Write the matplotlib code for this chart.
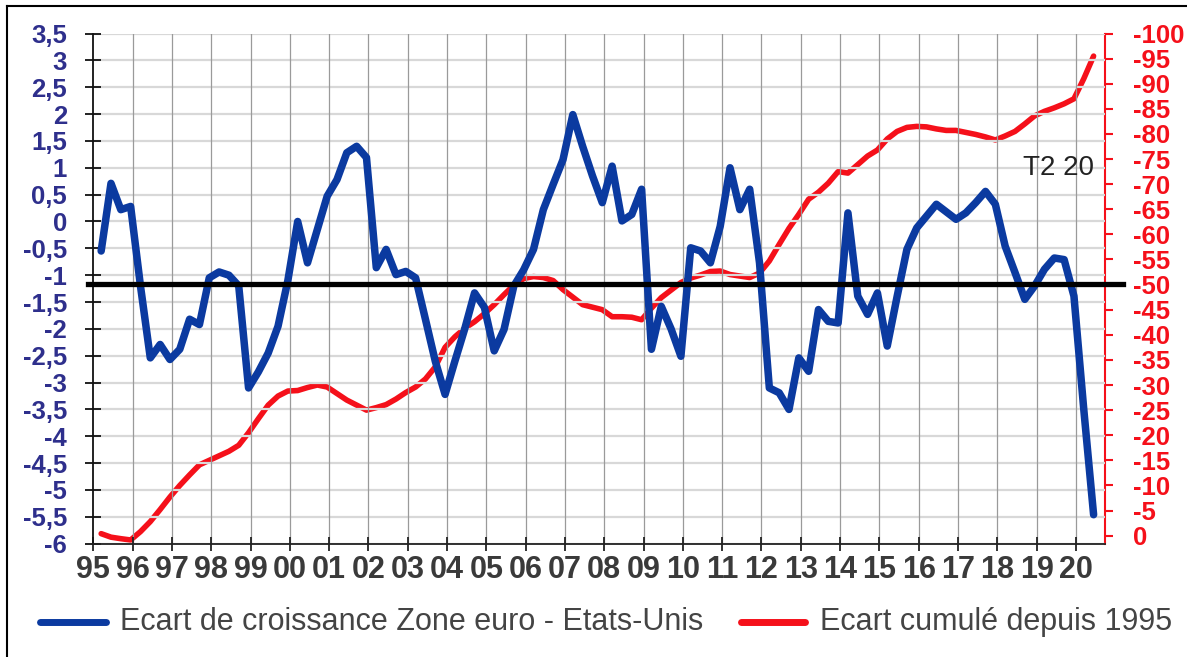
import numpy as np
import matplotlib
matplotlib.use("Agg")
import matplotlib.pyplot as plt
from matplotlib.lines import Line2D
import matplotlib.transforms as mtransforms

# ---------------- data ----------------
start_year = 1995.2          # first quarter (T1 1995) position on the time axis
quarter_step = 0.25

growth_gap = [  # Ecart de croissance Zone euro - Etats-Unis (quarterly, 1995 T1 -> 2020 T2)
    -0.55, 0.71, 0.22, 0.28, -1.2, -2.54, -2.29, -2.57, -2.38, -1.82,
    -1.92, -1.05, -0.94, -1.0, -1.2, -3.1, -2.8, -2.45, -1.95, -1.1,
    0.0, -0.77, -0.15, 0.47, 0.78, 1.28, 1.40, 1.19, -0.86, -0.52,
    -0.99, -0.93, -1.05, -1.82, -2.6, -3.22, -2.6, -2.0, -1.33, -1.6,
    -2.41, -2.01, -1.2, -0.9, -0.52, 0.22, 0.69, 1.15, 1.99, 1.4,
    0.85, 0.35, 1.03, 0.01, 0.13, 0.6, -2.38, -1.58, -2.0, -2.51,
    -0.49, -0.55, -0.77, -0.09, 1.0, 0.22, 0.6, -0.77, -3.1, -3.19,
    -3.5, -2.54, -2.79, -1.64, -1.86, -1.89, 0.16, -1.39, -1.73, -1.33,
    -2.32, -1.4, -0.52, -0.12, 0.1, 0.32, 0.18, 0.04, 0.16, 0.35,
    0.56, 0.32, -0.46, -0.95, -1.45, -1.2, -0.89, -0.68, -0.71, -1.39,
    -3.5, -5.46,
]

cumulative_gap = [  # Ecart cumulé depuis 1995 (right axis)
    -0.4, 0.3, 0.6, 0.86, -0.8, -2.8, -5.2, -7.7, -10.0, -12.1,
    -14.1, -15.0, -15.9, -16.8, -18.0, -20.5, -23.3, -26.0, -27.8, -28.8,
    -28.9, -29.5, -30.0, -29.6, -28.3, -27.0, -26.0, -25.0, -25.5, -26.1,
    -27.2, -28.5, -29.6, -31.2, -33.6, -37.5, -39.6, -41.3, -42.6, -44.2,
    -46.0, -48.0, -49.9, -51.2, -51.6, -51.4, -50.8, -49.0, -47.5, -46.0,
    -45.5, -45.0, -43.6, -43.6, -43.5, -43.0, -45.3, -47.4, -48.9, -50.4,
    -51.3, -51.9, -52.6, -52.7, -52.0, -51.7, -51.4, -52.3, -54.7, -58.0,
    -61.2, -64.0, -67.0, -68.4, -70.2, -72.5, -72.2, -73.9, -75.6, -76.8,
    -79.0, -80.5, -81.3, -81.5, -81.4, -81.0, -80.7, -80.7, -80.3, -79.9,
    -79.4, -78.8, -79.6, -80.5, -82.0, -83.6, -84.5, -85.2, -86.0, -87.0,
    -91.0, -95.5,
]

average_gap = -1.17   # horizontal reference line (left axis)

year_ticks = list(range(1995, 2021))
year_labels = ["95", "96", "97", "98", "99", "00", "01", "02", "03", "04",
               "05", "06", "07", "08", "09", "10", "11", "12", "13", "14",
               "15", "16", "17", "18", "19", "20"]
left_ticks = [3.5, 3, 2.5, 2, 1.5, 1, 0.5, 0, -0.5, -1, -1.5, -2, -2.5, -3,
              -3.5, -4, -4.5, -5, -5.5, -6]
right_ticks = list(range(0, -101, -5))

label_blue = "Ecart de croissance Zone euro - Etats-Unis"
label_red = "Ecart cumulé depuis 1995"
last_label = "T2 20"

# ---------------- style ----------------
BLUE = "#0B3AA0"
RED = "#F5101A"
NAVY = "#2E2F8C"
GRAY_TXT = "#3A3A3A"
FONT = "Liberation Sans"

x = start_year + quarter_step * np.arange(len(growth_gap))

fig = plt.figure(figsize=(11.87, 6.57), dpi=100)
fig.patch.set_facecolor("white")

W, H = 1187, 657
ax_l, ax_r, ax_t, ax_b = 93.3, 1105, 33.5, 543.7
ax = fig.add_axes([ax_l / W, 1 - ax_b / H, (ax_r - ax_l) / W, (ax_b - ax_t) / H])
ax2 = ax.twinx()

ax.set_xlim(1995, 2020.74)
ax.set_ylim(-6, 3.5)
ax2.set_ylim(1.6, -100)

# grid
for yv in left_ticks:
    ax.axhline(yv, color="#D8D8D8", lw=1.6, zorder=0)
for xv in year_ticks[1:]:
    ax.axvline(xv, color="#9A9A9A", lw=0.9, zorder=0)

# series
ax2.plot(x, cumulative_gap, color=RED, lw=4.0, solid_capstyle="round",
         solid_joinstyle="round", zorder=3)
ax.plot(x, growth_gap, color=BLUE, lw=5.4, solid_capstyle="round",
        solid_joinstyle="round", zorder=4)
ax.set_zorder(ax2.get_zorder() + 1)
ax.patch.set_visible(False)

# average line spanning a little beyond the plot
trans = mtransforms.blended_transform_factory(ax.transAxes, ax.transData)
ax.plot([-0.005, 1.0175], [average_gap, average_gap], color="black", lw=3.8,
        transform=trans, clip_on=False, zorder=5)

# annotation
ax.text(x[-1], 1.0, last_label, ha="right", va="center", fontsize=20,
        family=FONT, color="#222222", zorder=6)

# spines
ax.spines["top"].set_visible(False)
ax2.spines["top"].set_visible(False)
ax.spines["right"].set_visible(False)
ax2.spines["left"].set_visible(False)
ax2.spines["bottom"].set_visible(False)
ax.spines["left"].set_color("#111111")
ax.spines["left"].set_linewidth(1.3)
ax.spines["bottom"].set_color("#222222")
ax.spines["bottom"].set_linewidth(1.3)
ax2.spines["right"].set_color(RED)
ax2.spines["right"].set_linewidth(1.5)

# ticks
ax.set_xticks(year_ticks)
ax.set_xticklabels(year_labels, family=FONT, fontweight="bold", fontsize=22,
                   color=GRAY_TXT)
ax.tick_params(axis="x", direction="inout", length=10, width=1.3,
               color="#222222", pad=3)

ax.set_yticks(left_ticks)
ax.set_yticklabels([("%g" % v).replace(".", ",") for v in left_ticks],
                   family=FONT, fontweight="bold", fontsize=18.5, color=NAVY)
ax.tick_params(axis="y", direction="inout", length=12, width=1.3,
               color="#111111", pad=13)

ax2.set_yticks(right_ticks)
ax2.set_yticklabels([str(v) for v in right_ticks], family=FONT,
                    fontweight="bold", fontsize=18.5, color=RED)
ax2.tick_params(axis="y", direction="out", length=6, width=1.5, color=RED,
                pad=14)

# legend (drawn as figure artists)
ly = 1 - 621.7 / H
fig.add_artist(Line2D([40 / W, 106 / W], [ly, ly], color=BLUE, lw=5,
                      solid_capstyle="round"))
fig.text(120 / W, ly, label_blue, family=FONT, fontsize=22, color="#444444",
         va="center", ha="left")
fig.add_artist(Line2D([741 / W, 805 / W], [ly, ly], color=RED, lw=5,
                      solid_capstyle="round"))
fig.text(820 / W, ly, label_red, family=FONT, fontsize=22, color="#444444",
         va="center", ha="left")

# outer frame (top and left)
fig.add_artist(Line2D([7 / W, 7 / W], [0, 1 - 6 / H], color="black", lw=1.5))
fig.add_artist(Line2D([7 / W, 1], [1 - 6 / H, 1 - 6 / H], color="black", lw=1.5))

fig.savefig("out.png", dpi=100)
